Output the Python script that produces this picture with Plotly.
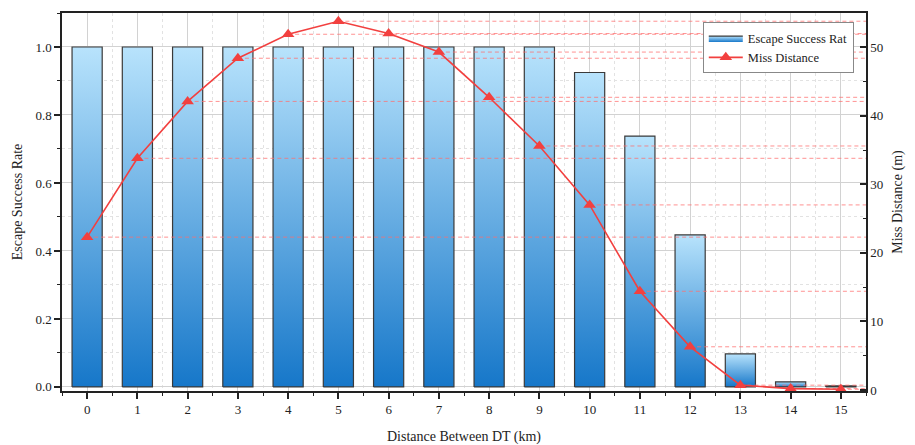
import plotly.graph_objects as go

# Distance between DT (km)
distance_km = list(range(16))
# Escape success rate per distance
escape_rate = [1.0, 1.0, 1.0, 1.0, 1.0, 1.0, 1.0, 1.0, 1.0, 1.0,
               0.925, 0.738, 0.447, 0.097, 0.015, 0.003]
# Miss distance (m) per distance
miss_distance = [22.3, 33.8, 42.1, 48.4, 51.9, 53.8, 52.0, 49.3, 42.7,
                 35.6, 27.0, 14.4, 6.3, 0.7, 0.2, 0.1]

BAR_WIDTH = 0.6
X_RANGE = [-0.5, 15.5]
SERIF = "Liberation Serif, Times New Roman, serif"

fig = go.Figure()

# Gradient-filled bars drawn as closed polygons so each bar gets its own
# vertical gradient (light on top, dark at the base).
for i, (x, v) in enumerate(zip(distance_km, escape_rate)):
    x0, x1 = x - BAR_WIDTH / 2, x + BAR_WIDTH / 2
    fig.add_trace(go.Scatter(
        x=[x0, x0, x1, x1, x0],
        y=[0, v, v, 0, 0],
        mode="lines",
        fill="toself",
        fillgradient=dict(type="vertical",
                          colorscale=[[0, "#1677c9"], [1, "#b8e3fc"]]),
        line=dict(color="#3a3a3a", width=1.2),
        name="Escape Success Rat",
        legendgroup="rate",
        showlegend=(i == 0),
        hoverinfo="skip",
        yaxis="y",
    ))

# Dashed drop lines from each miss-distance point to the right axis
for x, m in zip(distance_km, miss_distance):
    fig.add_trace(go.Scatter(
        x=[x, X_RANGE[1]],
        y=[m, m],
        mode="lines",
        line=dict(color="rgba(255,110,110,0.75)", width=1, dash="4px,3px"),
        showlegend=False,
        hoverinfo="skip",
        yaxis="y2",
    ))

fig.add_trace(go.Scatter(
    x=distance_km,
    y=miss_distance,
    mode="lines+markers",
    name="Miss Distance",
    line=dict(color="#f2403f", width=1.6),
    marker=dict(symbol="triangle-up", size=11, color="#f2403f"),
    yaxis="y2",
))

fig.update_layout(
    width=915, height=445,
    margin=dict(l=62, r=49, t=13, b=54),
    plot_bgcolor="white",
    paper_bgcolor="white",
    font=dict(family=SERIF, size=13, color="#222222"),
    legend=dict(
        x=0.797, y=0.975, xanchor="left", yanchor="top",
        bgcolor="white", bordercolor="#888888", borderwidth=1,
        font=dict(family=SERIF, size=12.5, color="#222222"),
        tracegroupgap=0, itemwidth=34,
    ),
    xaxis=dict(
        range=X_RANGE, automargin=False,
        tickmode="array", tickvals=distance_km,
        ticktext=[str(d) for d in distance_km],
        ticks="outside", ticklen=6, tickwidth=1.5, tickcolor="#222222",
        showline=True, linecolor="#222222", linewidth=1.5, mirror=True,
        showgrid=True, gridcolor="#d2d2d2", gridwidth=1,
        minor=dict(dtick=0.5, tick0=0.5, ticks="outside", ticklen=3,
                   tickwidth=1.2, tickcolor="#222222", showgrid=True,
                   gridcolor="#e2e2e2", griddash="dot", gridwidth=1),
        zeroline=False,
        title=dict(text="Distance Between DT (km)",
                   font=dict(family=SERIF, size=14)),
    ),
    yaxis=dict(
        range=[-0.012, 1.1], automargin=False,
        tickmode="array", tickvals=[0, 0.2, 0.4, 0.6, 0.8, 1.0],
        ticktext=["0.0", "0.2", "0.4", "0.6", "0.8", "1.0"],
        ticks="outside", ticklen=6, tickwidth=1.5, tickcolor="#222222",
        showline=True, linecolor="#222222", linewidth=1.5,
        showgrid=True, gridcolor="#d2d2d2", gridwidth=1,
        minor=dict(dtick=0.1, tick0=0.1, ticks="outside", ticklen=3,
                   tickwidth=1.2, tickcolor="#222222", showgrid=True,
                   gridcolor="#e2e2e2", griddash="dot", gridwidth=1),
        zeroline=False,
        title=dict(text="Escape Success Rate",
                   font=dict(family=SERIF, size=14), standoff=10),
    ),
    yaxis2=dict(
        range=[-0.15, 55], automargin=False,
        overlaying="y", side="right",
        tickmode="array", tickvals=[0, 10, 20, 30, 40, 50],
        ticks="inside", ticklen=6, tickwidth=1.5, tickcolor="#222222",
        showline=True, linecolor="#222222", linewidth=1.5,
        showgrid=False, zeroline=False,
        minor=dict(dtick=5, tick0=5, ticks="inside", ticklen=3,
                   tickwidth=1.2, tickcolor="#222222", showgrid=False),
        title=dict(text="Miss Distance (m)",
                   font=dict(family=SERIF, size=14), standoff=10),
    ),
)

fig.write_html("out.html")
